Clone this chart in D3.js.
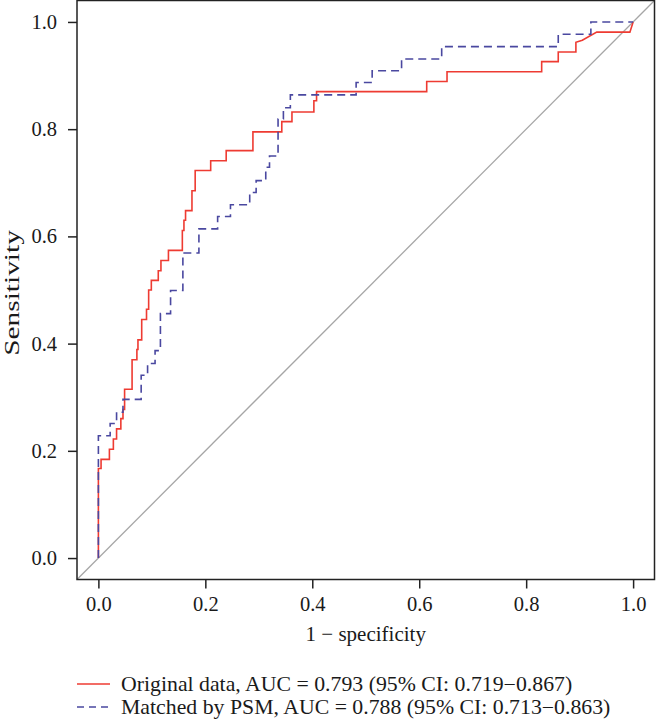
<!DOCTYPE html>
<html>
<head>
<meta charset="utf-8">
<script src="https://cdn.jsdelivr.net/npm/d3@7"></script>
<style>
  html, body { margin: 0; padding: 0; background: #fff; }
  svg { display: block; }
  text { font-family: "Liberation Serif", "Times New Roman", serif; fill: #1a1a1a; }
</style>
</head>
<body>
<script>
// ---- Data ----
const tickValues = [0, 0.2, 0.4, 0.6, 0.8, 1.0];
const xTitle = "1 \u2212 specificity";
const yTitle = "Sensitivity";
const seriesNames = [
  "Original data, AUC = 0.793 (95% CI: 0.719\u22120.867)",
  "Matched by PSM, AUC = 0.788 (95% CI: 0.713\u22120.863)"
];

// Original data ROC (1 - specificity, sensitivity)
const originalFpr = [0,0,0.005,0.005,0.0206,0.0206,0.028,0.028,0.034,0.034,0.042,0.042,0.046,0.046,0.049,0.049,0.063,0.063,0.072,0.072,0.074,0.074,0.081,0.081,0.09,0.09,0.094,0.094,0.099,0.099,0.112,0.112,0.117,0.117,0.131,0.131,0.157,0.157,0.16,0.16,0.163,0.163,0.175,0.175,0.181,0.181,0.21,0.21,0.239,0.239,0.289,0.289,0.343,0.343,0.362,0.362,0.403,0.403,0.408,0.408,0.614,0.614,0.652,0.652,0.829,0.829,0.86,0.86,0.893,0.893,0.905,0.932,0.994,1];
const originalTpr = [0,0.167,0.167,0.184,0.184,0.203,0.203,0.222,0.222,0.241,0.241,0.26,0.26,0.277,0.277,0.315,0.315,0.37,0.37,0.389,0.389,0.407,0.407,0.445,0.445,0.464,0.464,0.5,0.5,0.518,0.518,0.536,0.536,0.555,0.555,0.574,0.574,0.611,0.611,0.63,0.63,0.648,0.648,0.685,0.685,0.723,0.723,0.741,0.741,0.76,0.76,0.795,0.795,0.814,0.814,0.832,0.832,0.853,0.853,0.87,0.87,0.889,0.889,0.907,0.907,0.926,0.926,0.944,0.944,0.962,0.966,0.981,0.981,1];

// Matched by PSM ROC
const matchedFpr = [0,0,0.022,0.022,0.034,0.034,0.046,0.046,0.08,0.08,0.092,0.092,0.106,0.106,0.116,0.116,0.135,0.135,0.158,0.158,0.188,0.188,0.223,0.223,0.247,0.247,0.283,0.283,0.295,0.295,0.313,0.313,0.32,0.32,0.336,0.336,0.346,0.346,0.359,0.359,0.482,0.482,0.512,0.512,0.567,0.567,0.642,0.642,0.86,0.86,0.921,0.921,1];
const matchedTpr = [0,0.228,0.228,0.251,0.251,0.272,0.272,0.296,0.296,0.341,0.341,0.363,0.363,0.387,0.387,0.456,0.456,0.499,0.499,0.569,0.569,0.614,0.614,0.637,0.637,0.659,0.659,0.682,0.682,0.704,0.704,0.729,0.729,0.75,0.75,0.819,0.819,0.84,0.84,0.864,0.864,0.887,0.887,0.909,0.909,0.931,0.931,0.954,0.954,0.977,0.977,1,1];

const seriesColors = ["#ee3b32", "#4a48a0"];

// ---- Layout ----
const W = 656, H = 719;
const box = { left: 77, right: 654.5, top: 0.5, bottom: 579.5 };

const svg = d3.select("body").append("svg")
  .attr("width", W).attr("height", H);

const x = d3.scaleLinear().domain([-0.04, 1.04]).range([box.left, box.right]);
const y = d3.scaleLinear().domain([-0.04, 1.04]).range([box.bottom, box.top]);

const fontSize = 21;
const tickFontSize = 20.5;
const legendFontSize = 20;

// diagonal reference line
svg.append("line")
  .attr("x1", x(-0.04)).attr("y1", y(-0.04))
  .attr("x2", x(1.04)).attr("y2", y(1.04))
  .attr("stroke", "#a6a6a6").attr("stroke-width", 1.3);

const line = d3.line().x(d => x(d[0])).y(d => y(d[1]));

const originalPts = originalFpr.map((v, i) => [v, originalTpr[i]]);
const matchedPts = matchedFpr.map((v, i) => [v, matchedTpr[i]]);

svg.append("path").datum(originalPts)
  .attr("d", line).attr("fill", "none")
  .attr("stroke", seriesColors[0]).attr("stroke-width", 1.6);

svg.append("path").datum(matchedPts)
  .attr("d", line).attr("fill", "none")
  .attr("stroke", seriesColors[1]).attr("stroke-width", 1.6)
  .attr("stroke-dasharray", "8,5");

// box
svg.append("rect")
  .attr("x", box.left).attr("y", box.top)
  .attr("width", box.right - box.left).attr("height", box.bottom - box.top)
  .attr("fill", "none").attr("stroke", "#222").attr("stroke-width", 1.5);

// axes
const fmt = d3.format(".1f");
const xAxis = svg.append("g")
  .attr("transform", `translate(0,${box.bottom})`)
  .call(d3.axisBottom(x).tickValues(tickValues).tickFormat(fmt).tickSize(9).tickPadding(8));
const yAxis = svg.append("g")
  .attr("transform", `translate(${box.left},0)`)
  .call(d3.axisLeft(y).tickValues(tickValues).tickFormat(fmt).tickSize(9).tickPadding(11));

[xAxis, yAxis].forEach(g => {
  g.select(".domain").remove();
  g.selectAll(".tick line").attr("stroke", "#222").attr("stroke-width", 1.5);
  g.selectAll(".tick text")
    .attr("fill", "#1a1a1a")
    .style("font-family", '"Liberation Serif", serif')
    .style("font-size", tickFontSize + "px");
});

// axis titles
svg.append("text")
  .attr("x", (box.left + box.right) / 2).attr("y", 641)
  .attr("text-anchor", "middle")
  .style("font-size", fontSize + "px")
  .text(xTitle);

svg.append("text")
  .attr("transform", `translate(19,293) rotate(-90) scale(1.4,1)`)
  .attr("text-anchor", "middle")
  .style("font-size", fontSize + "px")
  .text(yTitle);

// legend
const legendY = [684, 707];
seriesNames.forEach((name, i) => {
  const g = svg.append("g");
  g.append("line")
    .attr("x1", 77).attr("x2", 110)
    .attr("y1", legendY[i]).attr("y2", legendY[i])
    .attr("stroke", seriesColors[i]).attr("stroke-width", 1.6)
    .attr("stroke-dasharray", i === 1 ? "7,5" : null);
  g.append("text")
    .attr("transform", `translate(121,${legendY[i]}) scale(1.09,1)`)
    .attr("dy", "0.33em")
    .style("font-size", legendFontSize + "px")
    .text(name);
});
</script>
</body>
</html>
